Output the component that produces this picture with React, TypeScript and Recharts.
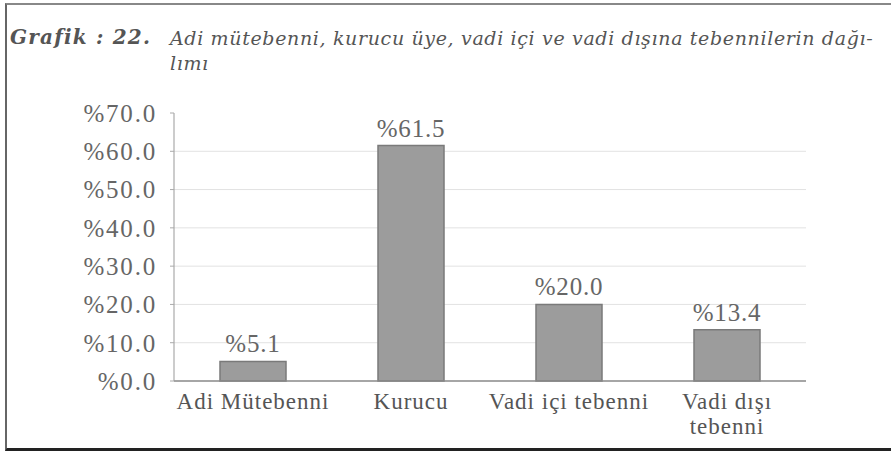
import React from 'react';
import { BarChart, Bar, XAxis, YAxis, CartesianGrid, LabelList } from 'recharts';

const categories = ['Adi Mütebenni', 'Kurucu', 'Vadi içi tebenni', 'Vadi dışı tebenni'];
const shares = [5.1, 61.5, 20.0, 13.4];
const tickLines = [['Adi Mütebenni'], ['Kurucu'], ['Vadi içi tebenni'], ['Vadi dışı', 'tebenni']];
const yTicks = [0, 10, 20, 30, 40, 50, 60, 70];

const data = categories.map((name, i) => ({ name, value: shares[i] }));

const serif = 'Liberation Serif';
const pct = (v: number) => '%' + Number(v).toFixed(1);

function CategoryTick(props: any) {
  const { x, y, index } = props;
  const lines = tickLines[index] || [];
  return (
    <g transform={`translate(${x},${y})`}>
      {lines.map((l, i) => (
        <text
          key={i}
          x={0}
          y={20 + i * 25}
          textAnchor="middle"
          fill="#555"
          style={{ fontFamily: serif, fontSize: 23, letterSpacing: 1 }}
        >
          {l}
        </text>
      ))}
    </g>
  );
}

export default function App() {
  return (
    <div style={{ position: 'absolute', left: 0, top: 0, width: 891, height: 458, background: '#fff' }}>
      <div
        style={{
          position: 'absolute',
          left: 5,
          top: 3,
          width: 886,
          height: 448,
          borderTop: '2px solid #888',
          borderLeft: '2px solid #666',
          borderBottom: '3px solid #222',
          boxSizing: 'border-box',
        }}
      />
      <div
        style={{
          position: 'absolute',
          left: 10,
          top: 25,
          fontFamily: '"DejaVu Serif", serif',
          fontStyle: 'italic',
          fontWeight: 'bold',
          fontSize: 20,
          color: '#555',
          letterSpacing: 1.2,
          whiteSpace: 'nowrap',
        }}
      >
        Grafik : 22.
      </div>
      <div
        style={{
          position: 'absolute',
          left: 170,
          top: 26,
          fontFamily: '"DejaVu Serif", serif',
          fontStyle: 'italic',
          fontSize: 19,
          lineHeight: '25px',
          color: '#555',
          letterSpacing: 0.65,
          whiteSpace: 'nowrap',
        }}
      >
        Adi mütebenni, kurucu üye, vadi içi ve vadi dışına tebennilerin dağı-
        <br />
        lımı
      </div>
      <div style={{ position: 'absolute', left: 0, top: 0 }}>
        <BarChart
          width={891}
          height={458}
          data={data}
          margin={{ top: 113, right: 85, bottom: 0, left: 0 }}
          barSize={66}
        >
          <CartesianGrid vertical={false} stroke="#e2e2e2" horizontalValues={[10, 20, 30, 40, 50, 60]} />
          <XAxis
            dataKey="name"
            height={77}
            axisLine={{ stroke: '#888', strokeWidth: 1.5 }}
            tickLine={false}
            tick={<CategoryTick />}
            interval={0}
          />
          <YAxis
            width={174}
            domain={[0, 70]}
            ticks={yTicks}
            tickFormatter={pct}
            axisLine={{ stroke: '#999' }}
            tickLine={{ stroke: '#aaa' }}
            tickSize={4}
            tickMargin={13}
            tick={{ fill: '#666', style: { fontFamily: serif, fontSize: 25, letterSpacing: 1.8 } }}
          />
          <Bar dataKey="value" fill="#9c9c9c" stroke="#7a7a7a" strokeWidth={1.5} isAnimationActive={false}>
            <LabelList
              dataKey="value"
              position="top"
              offset={9}
              formatter={(v: any) => pct(v)}
              fill="#666"
              style={{ fontFamily: serif, fontSize: 25, letterSpacing: 0.8 }}
            />
          </Bar>
        </BarChart>
      </div>
    </div>
  );
}
